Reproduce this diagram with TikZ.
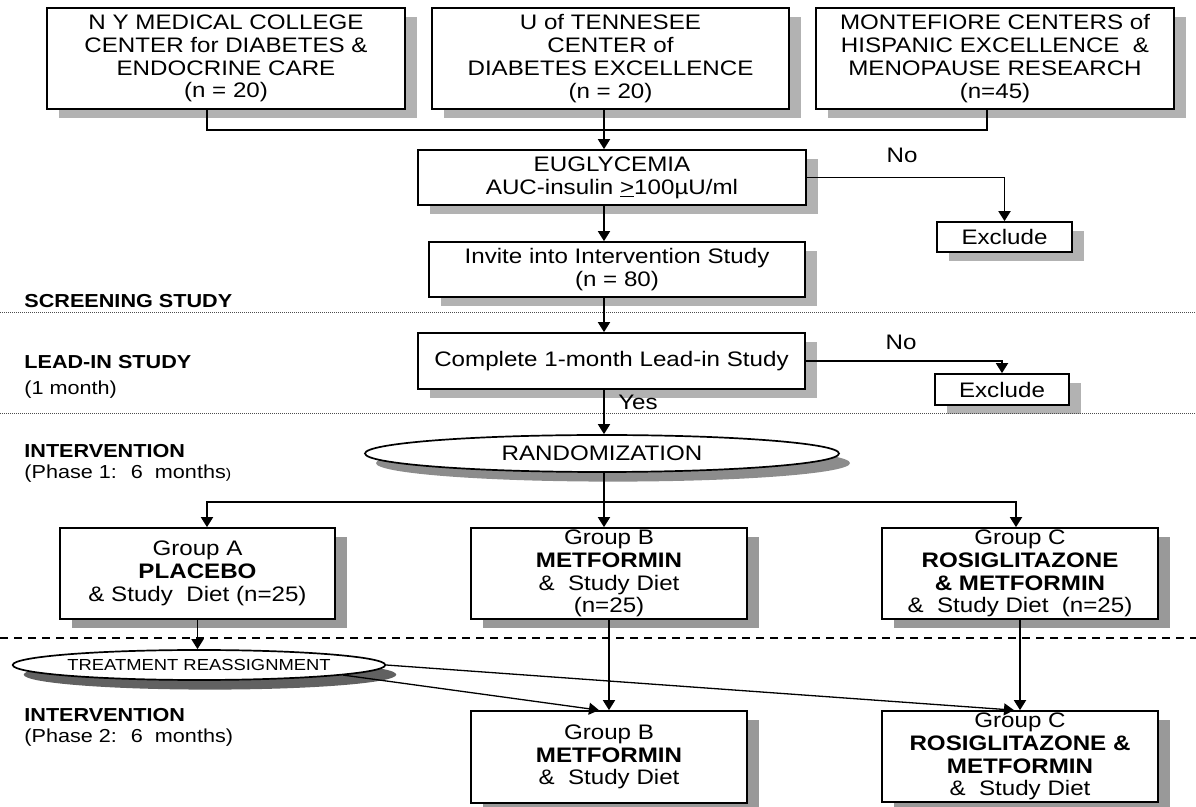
\documentclass[tikz,border=0pt]{standalone}
\usepackage{fontspec}
\setmainfont{Liberation Sans}[FakeStretch=1.15]
\usetikzlibrary{shapes.geometric,shadows,arrows.meta}
\definecolor{shadelight}{gray}{0.70}
\definecolor{shadegroup}{gray}{0.60}
\definecolor{shadernd}{gray}{0.55}
\definecolor{shadetreat}{gray}{0.38}

\begin{document}
\begin{tikzpicture}[x=0.5pt,y=-0.5pt,
  txt/.style={font=\fontsize{10.5pt}{11.4pt}\selectfont},
  box/.style={txt,draw,line width=0.85pt,fill=white,align=center,inner sep=0pt,
    drop shadow={shadow xshift=6pt,shadow yshift=-4.5pt,fill=#1,opacity=1}},
  box/.default=shadelight,
  oval/.style={ellipse,draw,line width=0.85pt,fill=white,inner sep=0pt,
    drop shadow={shadow xshift=5.5pt,shadow yshift=-4.8pt,fill=#1,opacity=1}},
  oval/.default=shadernd,
  lab/.style={anchor=west,align=left,inner sep=0pt,font=\fontsize{9.4pt}{10.5pt}\selectfont},
  link/.style={line width=0.9pt},
  arr/.style={link,-{Triangle[length=5pt,width=6pt]}},
  sepdot/.style={line width=0.5pt,black!70,dash pattern=on 0.5pt off 0.5pt},
  sepdash/.style={line width=1pt,dash pattern=on 4.2pt off 2.8pt}]
\useasboundingbox (0,0) rectangle (1196,807);

% screening study
\node[box,minimum width=179pt,minimum height=50.5pt] (ny) at (226,58.5) {N Y MEDICAL COLLEGE\\CENTER for DIABETES \&\\ENDOCRINE CARE\\(n = 20)};
\node[box,minimum width=178.5pt,minimum height=50.5pt] (ut) at (610.5,58.5) {U of TENNESEE\\CENTER of\\DIABETES EXCELLENCE\\(n = 20)};
\node[box,minimum width=179pt,minimum height=50.5pt] (mf) at (995,58.5) {MONTEFIORE CENTERS of\\HISPANIC EXCELLENCE~ \&\\MENOPAUSE RESEARCH\\(n=45)};
\node[box,minimum width=194pt,minimum height=27.5pt] (eu) at (612,177.5) {EUGLYCEMIA\\AUC-insulin \underline{>}100µU/ml};
\node[box,minimum width=67.5pt,minimum height=15pt] (ex1) at (1004.5,237) {Exclude};
\node[box,minimum width=188pt,minimum height=27.5pt] (inv) at (617,269.5) {Invite into Intervention Study\\(n = 80)};

% lead-in
\node[box,minimum width=193.5pt,minimum height=28pt] (cmp) at (611.5,361) {Complete 1-month Lead-in Study};
\node[box,minimum width=67pt,minimum height=15.5pt] (ex2) at (1002,389.5) {Exclude};

% phase 1
\node[oval,txt,minimum width=237pt,minimum height=18.5pt] (rnd) at (602,453.5) {RANDOMIZATION};
\node[box=shadegroup,minimum width=137.5pt,minimum height=45.5pt] (ga) at (197.5,573.5) {Group A\\\textbf{PLACEBO}\\\& Study~ Diet (n=25)};
\node[box=shadegroup,minimum width=138pt,minimum height=45.5pt] (gb) at (609,573.5) {Group B\\\textbf{METFORMIN}\\\&~ Study Diet\\(n=25)};
\node[box=shadegroup,minimum width=138pt,minimum height=45.5pt] (gc) at (1020,573.5) {Group C\\\textbf{ROSIGLITAZONE}\\\textbf{\& METFORMIN}\\\&~ Study Diet~ (n=25)};

% phase 2
\node[oval=shadetreat,font=\fontsize{8pt}{9pt}\selectfont,minimum width=179pt,minimum height=15pt] (tr) at (199,665) {TREATMENT REASSIGNMENT};
\node[box=shadegroup,minimum width=138pt,minimum height=46pt] (gb2) at (609,757) {Group B\\\textbf{METFORMIN}\\\&~ Study Diet};
\node[box=shadegroup,minimum width=138pt,minimum height=45.5pt] (gc2) at (1020,756.5) {Group C\\\textbf{ROSIGLITAZONE \&}\\\textbf{METFORMIN}\\\&~ Study Diet};

% labels on the left
\node[lab] (scr) at (24,301) {\textbf{SCREENING STUDY}};
\node[lab] (lead) at (24,377) {\textbf{LEAD-IN STUDY}\\[2.5pt](1 month)};
\node[lab] (int1) at (24,463.5) {\textbf{INTERVENTION}\\(Phase 1:~ 6~ months{\fontsize{7pt}{8pt}\selectfont)}};
\node[lab] (int2) at (24,727) {\textbf{INTERVENTION}\\(Phase 2:~ 6~ months)};

\draw[sepdot] (0,313) -- (1196,313);
\draw[sepdot] (0,414) -- (1196,414);
\draw[sepdash] (0,638) -- (1196,638);

% connectors
\coordinate (sp) at (604,130);
\draw[link] ([xshift=-9.5pt]ny.south) |- (sp) -| ([xshift=-4pt]mf.south);
\draw[arr] (ut.south -| sp) -- (eu.north -| sp);
\draw[arr] (eu.south -| sp) -- (inv.north -| sp);
\draw[arr] (eu.east) -| (ex1.north);
\node[txt] (no1) at (902,155) {No};
\draw[arr] (inv.south -| sp) -- (cmp.north -| sp);
\draw[arr] (cmp.east) -| (ex2.north);
\node[txt] (no2) at (901,342) {No};
\draw[arr] (cmp.south -| sp) -- (rnd.north -| sp);
\node[txt] (yes) at (638,402) {Yes};

\coordinate (fork) at (604,502);
\draw[link] (rnd.south -| fork) -- (fork);
\draw[arr] (fork) -| ([xshift=4.75pt]ga.north);
\draw[arr] (fork) -- (gb.north -| fork);
\draw[arr] (fork) -| ([xshift=-2pt]gc.north);

\draw[arr] (ga.south) -- (ga.south |- tr.north);
\draw[arr] (gb.south) -- (gb.south |- gb2.north);
\draw[arr] (gc.south) -- (gc.south |- gc2.north);
\draw[arr,line width=0.65pt] (tr.-4) -- ([xshift=-5pt]gb2.north);
\draw[arr,line width=0.65pt] (tr.east) -- ([xshift=-3pt]gc2.north);
\end{tikzpicture}
\end{document}
